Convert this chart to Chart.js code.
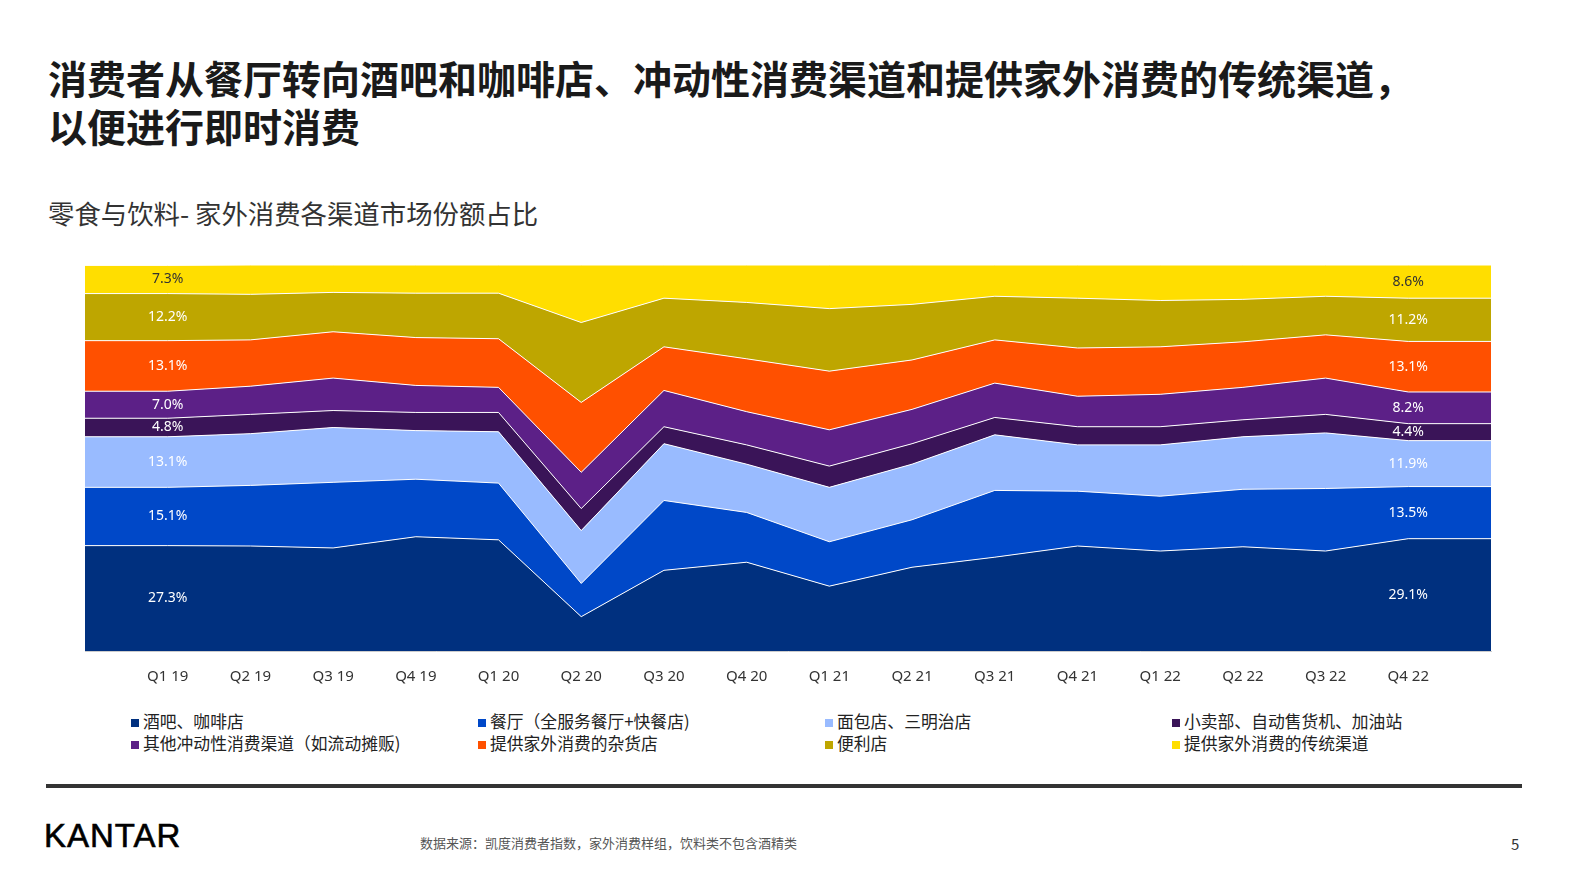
<!DOCTYPE html>
<html><head><meta charset="utf-8">
<script src="https://cdn.jsdelivr.net/npm/chart.js@4/dist/chart.umd.min.js"></script>
<style>
body{margin:0;width:1587px;height:892px;background:#fff;font-family:"Noto Sans CJK SC","Noto Sans",sans-serif;position:relative;overflow:hidden}
#title{position:absolute;left:48px;top:53px;font-size:39px;font-weight:bold;color:#1a1a1a;line-height:48px}
#sub{position:absolute;left:48px;top:193px;font-size:26.4px;color:#333}
#wrap{position:absolute;left:76px;top:265px;width:1424px;height:430px}
#legend{position:absolute;left:131px;top:709px;width:1400px;font-size:16.8px;color:#222}
.li{position:absolute;white-space:nowrap}
.sw{display:inline-block;width:8px;height:8px;margin-right:4px;vertical-align:1px}
#rule{position:absolute;left:46px;top:784px;width:1476px;height:4px;background:#333}
#logo{position:absolute;left:44px;top:817px;font-family:"Liberation Sans",sans-serif;font-size:33px;color:#000;letter-spacing:1px;-webkit-text-stroke:0.6px #000}
#src{position:absolute;left:420px;top:833px;font-size:13px;color:#555}
#pg{position:absolute;left:1511px;top:833px;font-size:15px;color:#333}
</style></head><body>
<div id="title">消费者从餐厅转向酒吧和咖啡店、冲动性消费渠道和提供家外消费的传统渠道，<br>以便进行即时消费</div>
<div id="sub">零食与饮料- 家外消费各渠道市场份额占比</div>
<div id="wrap"><canvas id="c"></canvas></div>
<div id="legend"></div>
<div id="rule"></div>
<div id="logo">KANTAR</div>
<div id="src">数据来源：凯度消费者指数，家外消费样组，饮料类不包含酒精类</div>
<div id="pg">5</div>
<script>
const quarters=["Q1 19","Q2 19","Q3 19","Q4 19","Q1 20","Q2 20","Q3 20","Q4 20","Q1 21","Q2 21","Q3 21","Q4 21","Q1 22","Q2 22","Q3 22","Q4 22"];
const seriesNames=["酒吧、咖啡店","餐厅（全服务餐厅+快餐店)","面包店、三明治店","小卖部、自动售货机、加油站","其他冲动性消费渠道（如流动摊贩)","提供家外消费的杂货店","便利店","提供家外消费的传统渠道"];
const bars=[27.3,27.2,26.7,29.6,28.8,8.9,20.9,23.0,16.8,21.7,24.3,27.2,25.9,27.0,25.9,29.1];
const restaurants=[15.1,15.7,17.0,14.9,14.7,8.6,18.1,12.9,11.5,12.3,17.3,14.2,14.2,14.9,16.2,13.5];
const bakery=[13.1,13.4,14.2,12.6,13.3,13.7,14.7,12.5,14.1,14.4,14.4,12.0,13.3,13.6,14.4,11.9];
const kiosk=[4.8,5.0,4.4,4.7,5.0,5.7,4.4,5.0,5.5,5.3,4.5,4.7,4.7,4.4,4.8,4.4];
const otherImpulse=[7.0,7.3,8.4,7.0,6.5,9.4,9.4,8.6,9.4,8.9,8.9,7.9,8.4,8.4,9.4,8.2];
const grocery=[13.1,12.0,12.0,12.4,12.6,18.1,11.3,13.7,15.2,12.8,11.2,12.5,12.3,11.8,11.2,13.1];
const convenience=[12.2,11.8,10.2,11.5,11.8,20.7,12.6,14.6,16.2,14.4,11.3,12.9,12.0,11.0,10.0,11.2];
const traditional=[7.3,7.6,7.1,7.3,7.3,14.9,8.6,9.7,11.3,10.2,8.1,8.6,9.2,8.9,8.1,8.6];
const colors=["#00307f","#0048c8","#99bbff","#3a1458","#5c2087","#ff5000","#bea600","#ffde00"];
const all=[bars,restaurants,bakery,kiosk,otherImpulse,grocery,convenience,traditional];
const labels=[""].concat(quarters,[""]);
const pad=a=>[a[0]].concat(a,[a[a.length-1]]);
const datasets=all.map((d,i)=>({label:seriesNames[i],data:pad(d),backgroundColor:colors[i],borderColor:"#fff",borderWidth:1,fill:i===0?'origin':'-1',pointRadius:0,tension:0}));
const lg=document.getElementById('legend');
const cols=[0,347,694,1041];
seriesNames.forEach((n,i)=>{const e=document.createElement('div');e.className='li';e.style.left=cols[i%4]+'px';e.style.top=(i<4?0:22)+'px';e.innerHTML='<span class="sw" style="background:'+colors[i]+'"></span>'+n;lg.appendChild(e);});
const labelPlugin={id:'lbl',afterDatasetsDraw(ch){const c=ch.ctx;const ys=ch.scales.y,xs=ch.scales.x;c.save();c.font='14px "Noto Sans"';c.textAlign='center';c.textBaseline='middle';
[1,labels.length-2].forEach(idx=>{let cum=0;ch.data.datasets.forEach((ds,i)=>{const v=ds.data[idx];const mid=cum+v/2;cum+=v;c.fillStyle=i===7?'#333':'#fff';c.fillText(v.toFixed(1)+'%',xs.getPixelForValue(idx),ys.getPixelForValue(mid));});});c.restore();}};
new Chart(document.getElementById('c'),{type:'line',data:{labels,datasets},plugins:[labelPlugin],
options:{responsive:true,maintainAspectRatio:false,animation:false,layout:{padding:0},
plugins:{legend:{display:false},tooltip:{enabled:false}},
scales:{y:{stacked:true,min:0,max:100,display:false},
x:{offset:false,grid:{display:false,drawTicks:true},border:{display:true,color:'#ccc'},ticks:{color:'#333',font:{size:15,family:'"Noto Sans"'},maxRotation:0,autoSkip:false,padding:9}}}}});
</script>
</body></html>
